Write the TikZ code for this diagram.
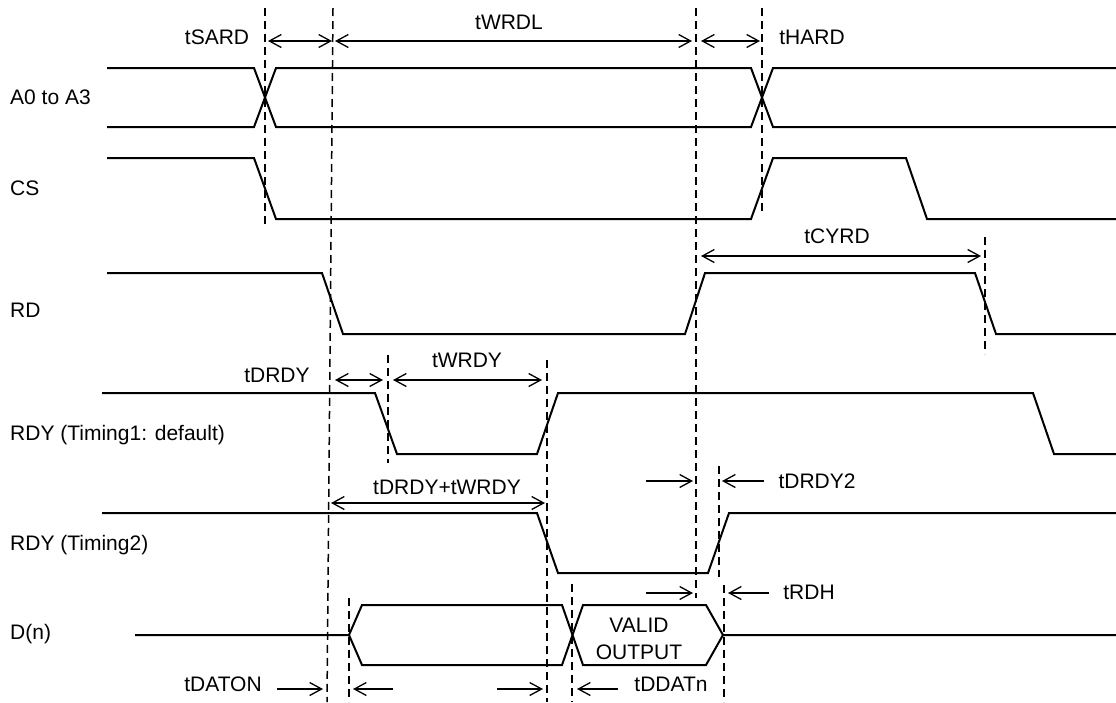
\documentclass[tikz,border=0pt]{standalone}
\usepackage{fontspec}
\setmainfont{Liberation Sans}
\usetikzlibrary{arrows.meta}
\tikzset{
  sig/.style={line width=2pt,line join=miter},
  guide/.style={line width=1.5pt,dash pattern=on 8pt off 5pt},
  dim/.style={line width=1.3pt},
  lbl/.style={inner sep=0pt,text height=15pt,text depth=0pt,font=\fontsize{21}{25}\selectfont},
  >={Straight Barb[length=12pt,width=13pt]}
}
\begin{document}
\begin{tikzpicture}[x=1pt,y=-1pt]
\useasboundingbox (0,0) rectangle (1116,702);
% signal names
\node[lbl,anchor=west] (nAddr) at (10,97) {A0 to A3};
\node[lbl,anchor=west] (nCS) at (10,188) {CS};
\node[lbl,anchor=west] (nRD) at (10,310) {RD};
\node[lbl,anchor=west] (nRdyA) at (10,433) {RDY (Timing1: default)};
\node[lbl,anchor=west] (nRdyB) at (10,543) {RDY (Timing2)};
\node[lbl,anchor=west] (nData) at (10,632) {D(n)};
% waveforms
\draw[sig] (107,68) -- (254,68) -- (276,127) -- (751,127) -- (773,68) -- (1116,68);
\draw[sig] (107,127) -- (254,127) -- (276,68) -- (751,68) -- (773,127) -- (1116,127);
\draw[sig] (107,158) -- (254,158) -- (276,219) -- (751,219) -- (773,158) -- (906,158) -- (927,219) -- (1116,219); %CS
\draw[sig] (107,273) -- (322,273) -- (343,334) -- (685,334) -- (705,273) -- (975,273) -- (996,334) -- (1116,334); %RD
\draw[sig] (102,393) -- (375,393) -- (397,454) -- (537,454) -- (558,393) -- (1033,393) -- (1054,454) -- (1116,454);
\draw[sig] (102,513) -- (537,513) -- (558,573) -- (708,573) -- (729,513) -- (1116,513);
\draw[sig] (135,635) -- (349,635) -- (362,605) -- (562,605) -- (583,665) -- (706,665) -- (723,635) -- (1116,635); %D(n)
\draw[sig] (349,635) -- (362,665) -- (562,665) -- (583,605) -- (706,605) -- (723,635);
\node[lbl] (valid) at (639,625) {VALID};
\node[lbl] (output) at (639,652) {OUTPUT};
% dashed guides
\draw[guide] (265,8) -- (265,228);
\draw[guide] (333,8) -- (327,702);
\draw[guide] (696,8) -- (696,598);
\draw[guide] (762,8) -- (762,213);
\draw[guide] (985,237) -- (985,354);
\draw[guide] (388,355) -- (388,463);
\draw[guide] (547,360) -- (547,702);
\draw[guide] (719,466) -- (719,577);
\draw[guide] (724,585) -- (724,702);
\draw[guide] (572,584) -- (572,702);
\draw[guide] (349,598) -- (349,702);
% timings
\draw[dim,<->] (268,41) -- (332,41);
\draw[dim,<->] (335,41) -- (692,41);
\draw[dim,<->] (701,41) -- (760,41);
\draw[dim,<->] (701,256) -- (981,256);
\draw[dim,<->] (335,380) -- (383,380);
\draw[dim,<->] (393,380) -- (542,380);
\draw[dim,<->] (331,503) -- (545,503);
\draw[dim,->] (646,481) -- (693,481);
\draw[dim,->] (764,481) -- (722,481);
\draw[dim,->] (646,593) -- (693,593);
\draw[dim,->] (769,593) -- (728,593);
\draw[dim,->] (277,689) -- (323,689);
\draw[dim,->] (393,689) -- (353,689);
\draw[dim,->] (497,689) -- (543,689);
\draw[dim,->] (618,689) -- (577,689);
\node[lbl] (tSARD) at (217,37) {tSARD};
\node[lbl] (tWRDL) at (509,22) {tWRDL};
\node[lbl] (tHARD) at (812,37) {tHARD};
\node[lbl] (tCYRD) at (837,236) {tCYRD};
\node[lbl] (tDRDY) at (277,375) {tDRDY};
\node[lbl] (tWRDY) at (467,360) {tWRDY};
\node[lbl] (tSum) at (447,487) {tDRDY+tWRDY};
\node[lbl] (tDRDYb) at (817,481) {tDRDY2};
\node[lbl] (tRDH) at (809,592) {tRDH};
\node[lbl] (tDATON) at (223,684) {tDATON};
\node[lbl] (tDDATn) at (671,684) {tDDATn};
\end{tikzpicture}
\end{document}
